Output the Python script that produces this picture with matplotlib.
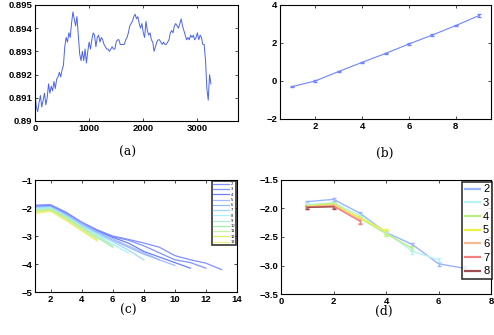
import matplotlib
matplotlib.use("Agg")
import matplotlib.pyplot as plt
from matplotlib.lines import Line2D
import numpy as np

# ---------------- data ----------------
# (a) time series, sampled every 25 steps
a_x = list(range(0, 3251, 25))
a_y = [
    0.8912, 0.8906, 0.8904, 0.8908, 0.8911, 0.8906, 0.8909, 0.8912, 0.8907, 0.8910,
    0.8916, 0.8912, 0.8915, 0.8913, 0.8917, 0.8914, 0.8918, 0.8919, 0.8921, 0.8919,
    0.8922, 0.8924, 0.8932, 0.8936, 0.8934, 0.8938, 0.8936, 0.8942, 0.8947, 0.8944,
    0.8941, 0.8945, 0.8937, 0.8929, 0.8926, 0.8930, 0.8926, 0.8931, 0.8925, 0.8930,
    0.8934, 0.8931, 0.8935, 0.8938, 0.8937, 0.8932, 0.8936, 0.8937, 0.8934, 0.8936,
    0.8935, 0.8933, 0.8932, 0.8931, 0.8931, 0.8930, 0.8931, 0.8932, 0.8931, 0.8931,
    0.8934, 0.8935, 0.8935, 0.8933, 0.8933, 0.8933, 0.8933, 0.8935, 0.8936, 0.8938,
    0.8941, 0.8942, 0.8943, 0.8945, 0.8946, 0.8944, 0.8945, 0.8942, 0.8940, 0.8942,
    0.8938, 0.8936, 0.8943, 0.8939, 0.8937, 0.8938, 0.8935, 0.8934, 0.8930, 0.8932,
    0.8934, 0.8935, 0.8935, 0.8934, 0.8933, 0.8934, 0.8933, 0.8933, 0.8934, 0.8935,
    0.8938, 0.8939, 0.8938, 0.8941, 0.8942, 0.8941, 0.8940, 0.8942, 0.8944, 0.8941,
    0.8939, 0.8937, 0.8935, 0.8936, 0.8935, 0.8937, 0.8936, 0.8937, 0.8935, 0.8936,
    0.8938, 0.8935, 0.8937, 0.8936, 0.8933, 0.8933, 0.8926, 0.8914, 0.8909, 0.8920,
    0.8916,
]

# (b)
b_x = [1, 2, 3, 4, 5, 6, 7, 8, 9]
b_y = [-0.30, 0.00, 0.50, 0.98, 1.45, 1.95, 2.42, 2.92, 3.45]
b_err = [0.03, 0.04, 0.04, 0.04, 0.05, 0.05, 0.05, 0.05, 0.06]

# (c)
c_labels = ["2", "3", "4", "5", "6", "7", "8", "9", "10", "11", "12", "13"]
c_series = [
    [-1.90, -1.88, -2.15, -2.50, -2.78, -3.00, -3.12, -3.25, -3.40, -3.70, -3.85, -3.97, -4.20],
    [-1.92, -1.90, -2.18, -2.52, -2.80, -3.02, -3.15, -3.35, -3.60, -3.85, -3.95, -4.15],
    [-1.95, -1.93, -2.20, -2.55, -2.82, -3.05, -3.25, -3.55, -3.75, -3.95, -4.15],
    [-1.97, -1.95, -2.22, -2.55, -2.85, -3.10, -3.35, -3.60, -3.85, -4.05],
    [-1.98, -1.97, -2.25, -2.60, -2.88, -3.15, -3.40, -3.65, -3.85],
    [-2.00, -1.98, -2.28, -2.62, -2.92, -3.20, -3.50, -3.85],
    [-2.02, -2.00, -2.30, -2.65, -2.95, -3.30, -3.60],
    [-2.05, -2.02, -2.32, -2.68, -3.00, -3.35],
    [-2.08, -2.05, -2.35, -2.70, -3.05, -3.40],
    [-2.10, -2.08, -2.38, -2.75, -3.10],
    [-2.15, -2.10, -2.42, -2.80, -3.15],
    [-2.20, -2.12, -2.45, -2.82, -3.18],
]

# (d)
d_labels = ["2", "3", "4", "5", "6", "7", "8"]
d_series = [
    [-1.88, -1.84, -2.08, -2.42, -2.63, -2.97, -3.05],
    [-1.93, -1.90, -2.12, -2.42, -2.75, -2.90],
    [-1.95, -1.91, -2.17, -2.44, -2.70],
    [-1.96, -1.93, -2.16, -2.40],
    [-1.97, -1.94, -2.20],
    [-1.98, -1.96, -2.22],
    [-1.98, -1.97],
]
d_errs = [
    [0.02, 0.02, 0.02, 0.03, 0.03, 0.03, 0.04],
    [0.02, 0.02, 0.03, 0.03, 0.04, 0.04],
    [0.02, 0.02, 0.03, 0.04, 0.04],
    [0.02, 0.03, 0.04, 0.04],
    [0.02, 0.03, 0.05],
    [0.03, 0.04, 0.05],
    [0.03, 0.04],
]

# ---------------- styling ----------------
W, H = 494, 335
fig = plt.figure(figsize=(W / 100, H / 100), dpi=100)
TF = dict(family="Liberation Sans", weight="bold", size=6.8)


def make_ax(l, r, t, b):
    ax = fig.add_axes([l / W, 1 - b / H, (r - l) / W, (b - t) / H])
    ax.tick_params(direction="in", length=2.5, width=0.5, top=True, right=True, pad=2)
    for s in ax.spines.values():
        s.set_linewidth(0.8)
    return ax


def fmt_ticks(ax):
    for lab in ax.get_xticklabels() + ax.get_yticklabels():
        lab.set_fontproperties(matplotlib.font_manager.FontProperties(**TF))


# (a)
ax = make_ax(35, 238, 5, 121)
ax.plot(a_x, a_y, color="#4a62f0", lw=0.7)
ax.set_xlim(0, 3750)
ax.set_ylim(0.89, 0.895)
ax.set_xticks([0, 1000, 2000, 3000])
ax.set_yticks([0.89, 0.891, 0.892, 0.893, 0.894, 0.895])
ax.set_yticklabels(["0.89", "0.891", "0.892", "0.893", "0.894", "0.895"])
fmt_ticks(ax)

# (b)
ax = make_ax(280, 491, 5, 119)
ax.errorbar(b_x, b_y, yerr=b_err, color="#6f84ff", lw=0.8, capsize=1.2, elinewidth=0.8)
ax.set_xlim(0.5, 9.5)
ax.set_ylim(-2, 4)
ax.set_xticks([2, 4, 6, 8])
ax.set_yticks([-2, 0, 2, 4])
fmt_ticks(ax)

# (c)
c_colors = ["#8090ff", "#7f94ff", "#6a80ff", "#a8b8ff", "#96b8ff", "#9fd8ff",
            "#a8f0ff", "#b0f0d0", "#a8f0a8", "#c8f0a0", "#d8f060", "#f0f080"]
ax = make_ax(35, 237, 180, 292)
for lab, ys, col in zip(c_labels, c_series, c_colors):
    xs = list(range(1, len(ys) + 1))
    ax.plot(xs, ys, color=col, lw=0.9, label=lab)
ax.set_xlim(1, 14)
ax.set_ylim(-5, -1)
ax.set_xticks([2, 4, 6, 8, 10, 12, 14])
ax.set_yticks([-5, -4, -3, -2, -1])
fmt_ticks(ax)
leg = ax.legend(loc="upper right", fontsize=2.6, frameon=True, fancybox=False,
                borderpad=0.3, labelspacing=0.35, handlelength=4.5, handletextpad=0.4,
                borderaxespad=0.25)
leg.get_frame().set_edgecolor("black")
leg.get_frame().set_linewidth(1.2)

# (d)
d_colors = ["#9ab4ff", "#b8f4f4", "#b8f080", "#f0f040", "#f8b890", "#f08080", "#a05050"]
ax = make_ax(281, 491, 180, 294)
handles = []
for lab, ys, es, col in zip(d_labels, d_series, d_errs, d_colors):
    xs = list(range(1, len(ys) + 1))
    ax.errorbar(xs, ys, yerr=es, color=col, lw=1.0, capsize=1.5, elinewidth=0.9)
    handles.append(Line2D([], [], color=col, lw=1.6, label=lab))
ax.set_xlim(0, 8)
ax.set_ylim(-3.5, -1.5)
ax.set_xticks([0, 2, 4, 6, 8])
ax.set_yticks([-3.5, -3, -2.5, -2, -1.5])
fmt_ticks(ax)
leg = ax.legend(handles=handles, loc="upper right", frameon=True, fancybox=False,
                borderpad=0.25, labelspacing=0.33, handlelength=1.4, handletextpad=0.25,
                borderaxespad=0.0, bbox_to_anchor=(1.005, 0.985),
                prop=dict(family="Liberation Sans", size=8))
leg.get_frame().set_edgecolor("black")
leg.get_frame().set_linewidth(1.2)

# captions
cap = dict(family="DejaVu Serif", size=8.8, ha="center", va="center")
fig.text(128 / W, 1 - 152 / H, "(a)", **cap)
fig.text(385 / W, 1 - 153 / H, "(b)", **cap)
fig.text(128 / W, 1 - 310 / H, "(c)", **cap)
fig.text(384 / W, 1 - 311 / H, "(d)", **cap)

fig.savefig("out.png", dpi=100)
